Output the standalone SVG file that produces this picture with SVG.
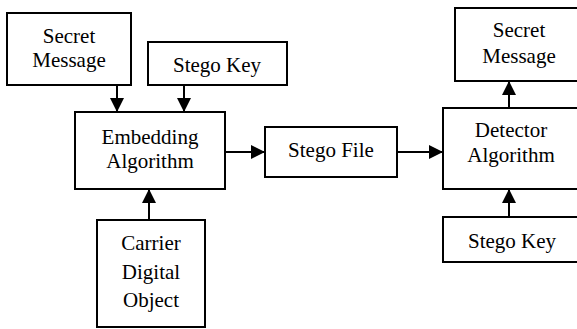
<svg xmlns="http://www.w3.org/2000/svg" width="577" height="329" viewBox="0 0 577 329">
<defs>
<marker id="ah" viewBox="0 0 14 14" refX="14" refY="7" markerWidth="14" markerHeight="14" markerUnits="userSpaceOnUse" orient="auto">
<path d="M0,0 L14,7 L0,14 Z" fill="#000"/>
</marker>
</defs>
<style>
.b{fill:#fff;stroke:#000;stroke-width:2}
text{font-family:"Liberation Serif","Times New Roman",serif;font-size:21px;fill:#000;text-anchor:middle}
.c{stroke:#000;stroke-width:2;fill:none;marker-end:url(#ah)}
</style>
<rect width="577" height="329" fill="#fff"/>
<g id="connectors">
<line class="c" x1="117" y1="85" x2="117" y2="112"/>
<line class="c" x1="184" y1="85" x2="184" y2="112"/>
<line class="c" x1="149" y1="220" x2="149" y2="189"/>
<line class="c" x1="225" y1="152" x2="265" y2="152"/>
<line class="c" x1="397" y1="152" x2="443" y2="152"/>
<line class="c" x1="509" y1="108" x2="509" y2="81"/>
<line class="c" x1="509" y1="217" x2="509" y2="189"/>
</g>
<g id="secret1">
<rect class="b" x="7" y="13" width="124" height="72"/>
<text x="69" y="43">Secret</text>
<text x="69" y="67">Message</text>
</g>
<g id="key1">
<rect class="b" x="148" y="42" width="139" height="43"/>
<text x="217" y="72">Stego Key</text>
</g>
<g id="embed">
<rect class="b" x="75" y="112" width="150" height="77"/>
<text x="150" y="144">Embedding</text>
<text x="150" y="168">Algorithm</text>
</g>
<g id="carrier">
<rect class="b" x="97" y="220" width="108" height="107"/>
<text x="151" y="250">Carrier</text>
<text x="151" y="279">Digital</text>
<text x="151" y="307">Object</text>
</g>
<g id="stegofile">
<rect class="b" x="265" y="127" width="132" height="50"/>
<text x="331" y="157">Stego File</text>
</g>
<g id="secret2">
<rect class="b" x="455" y="8" width="130" height="73"/>
<text x="519" y="37">Secret</text>
<text x="519" y="63">Message</text>
</g>
<g id="detector">
<rect class="b" x="443" y="108" width="140" height="81"/>
<text x="511" y="137">Detector</text>
<text x="511" y="162">Algorithm</text>
</g>
<g id="key2">
<rect class="b" x="443" y="217" width="140" height="45"/>
<text x="512" y="248">Stego Key</text>
</g>
</svg>
